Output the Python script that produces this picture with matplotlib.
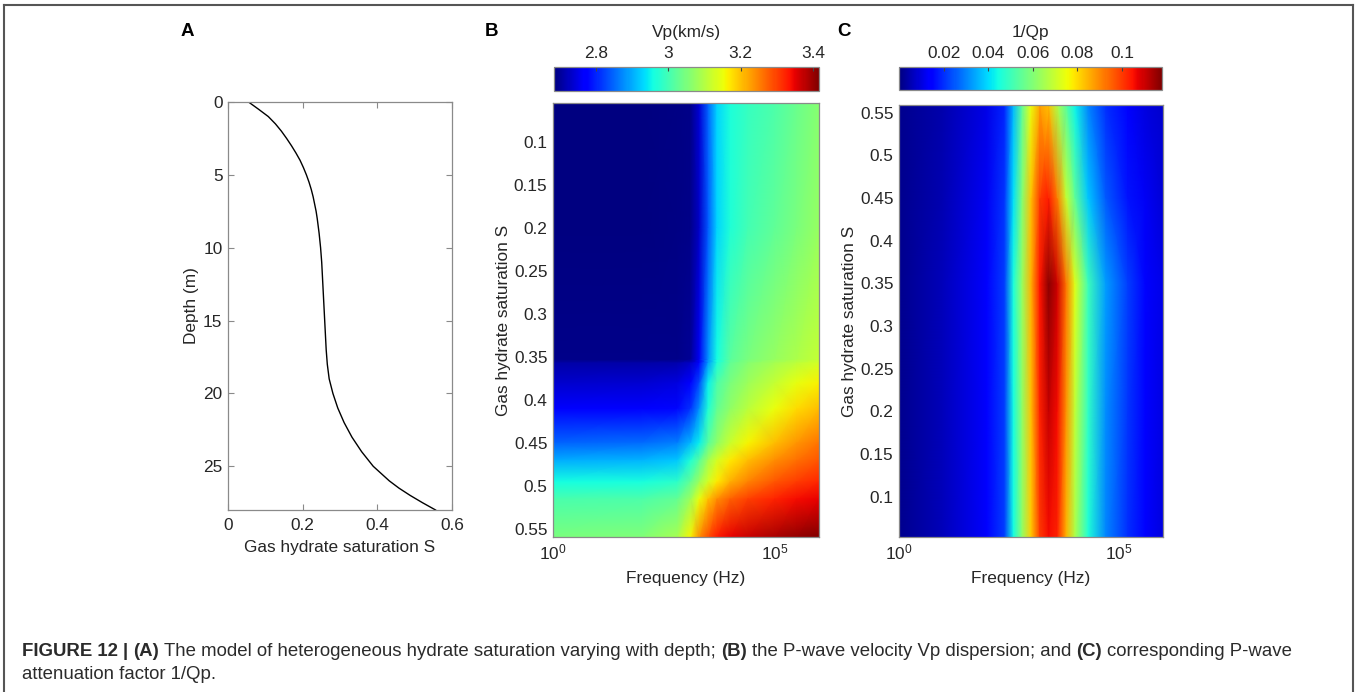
import numpy as np
import matplotlib
matplotlib.use("Agg")
import matplotlib.pyplot as plt
from matplotlib.lines import Line2D

plt.rcParams['font.family'] = ['Liberation Sans', 'DejaVu Sans']
plt.rcParams['mathtext.fontset'] = 'custom'
plt.rcParams['mathtext.rm'] = 'Liberation Sans'

W, H = 1359, 692

# (A) hydrate saturation profile vs depth
depth = [0, 0.5, 1.0, 1.5, 2.0, 2.5, 3.0, 3.5, 4.0, 4.5, 5.0, 5.5, 6.0, 6.5, 7.0, 7.5, 8.0,
         9.0, 10, 11, 12, 13, 14, 15, 16, 17, 18, 19, 20, 21, 22, 23, 24, 25, 26, 26.5, 27, 27.5, 28]
sat = [0.055, 0.082, 0.108, 0.127, 0.143, 0.157, 0.170, 0.182, 0.193, 0.202, 0.210, 0.217, 0.223,
       0.228, 0.232, 0.236, 0.239, 0.244, 0.248, 0.251, 0.253, 0.255, 0.257, 0.259, 0.261, 0.263,
       0.266, 0.271, 0.281, 0.294, 0.311, 0.332, 0.358, 0.389, 0.432, 0.458, 0.488, 0.521, 0.556]

# (B) Vp (km/s) on a grid of saturation rows x log10(frequency) columns
vp_logf = [0, 2, 2.8, 3.1, 3.3, 3.5, 3.7, 4.0, 4.4, 5.0, 5.5, 6.0]
vp_sat = [0.055, 0.20, 0.353, 0.357, 0.38, 0.41, 0.45, 0.47, 0.495, 0.515, 0.559]
vp = [
    [2.686, 2.686, 2.687, 2.690, 2.740, 2.850, 2.930, 2.965, 2.990, 3.010, 3.035, 3.060],
    [2.686, 2.686, 2.687, 2.690, 2.730, 2.840, 2.930, 2.970, 3.000, 3.025, 3.050, 3.075],
    [2.690, 2.690, 2.692, 2.700, 2.760, 2.880, 2.960, 3.020, 3.050, 3.075, 3.095, 3.115],
    [2.710, 2.710, 2.715, 2.730, 2.780, 2.890, 2.970, 3.030, 3.060, 3.090, 3.110, 3.130],
    [2.735, 2.737, 2.745, 2.765, 2.830, 2.950, 3.010, 3.050, 3.080, 3.115, 3.145, 3.165],
    [2.765, 2.768, 2.780, 2.810, 2.880, 2.970, 3.030, 3.070, 3.105, 3.150, 3.180, 3.205],
    [2.850, 2.853, 2.870, 2.910, 2.950, 3.020, 3.070, 3.120, 3.160, 3.205, 3.235, 3.260],
    [2.900, 2.905, 2.920, 2.970, 3.020, 3.085, 3.130, 3.170, 3.205, 3.240, 3.265, 3.285],
    [2.960, 2.963, 2.980, 3.030, 3.080, 3.130, 3.170, 3.215, 3.250, 3.285, 3.305, 3.320],
    [3.005, 3.010, 3.030, 3.080, 3.150, 3.200, 3.240, 3.275, 3.300, 3.325, 3.340, 3.350],
    [3.050, 3.055, 3.090, 3.160, 3.240, 3.290, 3.330, 3.350, 3.370, 3.390, 3.405, 3.415],
]
vp_ticks = [2.8, 3.0, 3.2, 3.4]
vp_ticklabels = ['2.8', '3', '3.2', '3.4']

# (C) 1/Qp on a grid of saturation rows x log10(frequency) columns
qp_logf = [0, 1, 2, 2.4, 2.6, 2.8, 3.0, 3.2, 3.4, 3.6, 3.8, 4.0, 4.3, 4.7, 5.2, 5.6, 6.0]
qp_sat = [0.053, 0.20, 0.35, 0.45, 0.559]
inv_qp = [
    [0.0015, 0.006, 0.013, 0.022, 0.044, 0.062, 0.082, 0.100, 0.106, 0.103, 0.085, 0.066, 0.046, 0.030, 0.020, 0.014, 0.010],
    [0.0015, 0.006, 0.013, 0.022, 0.044, 0.062, 0.083, 0.103, 0.111, 0.106, 0.089, 0.069, 0.048, 0.031, 0.021, 0.0145, 0.0105],
    [0.0015, 0.006, 0.013, 0.022, 0.045, 0.063, 0.085, 0.105, 0.117, 0.110, 0.093, 0.073, 0.050, 0.033, 0.022, 0.015, 0.011],
    [0.0015, 0.0055, 0.012, 0.021, 0.041, 0.060, 0.083, 0.100, 0.104, 0.092, 0.070, 0.055, 0.038, 0.025, 0.017, 0.012, 0.009],
    [0.0015, 0.005, 0.011, 0.019, 0.036, 0.055, 0.075, 0.087, 0.083, 0.066, 0.054, 0.043, 0.030, 0.020, 0.014, 0.010, 0.008],
]
qp_ticks = [0.02, 0.04, 0.06, 0.08, 0.1]
qp_ticklabels = ['0.02', '0.04', '0.06', '0.08', '0.1']

sat_ticks = [0.1, 0.15, 0.2, 0.25, 0.3, 0.35, 0.4, 0.45, 0.5, 0.55]
sat_ticklabels = ['0.1', '0.15', '0.2', '0.25', '0.3', '0.35', '0.4', '0.45', '0.5', '0.55']

FS = 12.4
TXT = '#262626'
SPINE = '#8a8a8a'


def px_rect(left, top, right, bottom):
    # pixel box -> figure fraction rect
    return [left / W, 1 - bottom / H, (right - left) / W, (bottom - top) / H]


def style_axes(ax):
    for s in ax.spines.values():
        s.set_color(SPINE)
        s.set_linewidth(0.9)
    ax.tick_params(direction='in', labelsize=FS, labelcolor=TXT, color=SPINE,
                   length=4, width=0.8, top=True, right=True)


fig = plt.figure(figsize=(W / 100, H / 100), dpi=100)

# ---- panel A
axA = fig.add_axes(px_rect(228, 102, 452, 510))
axA.plot(sat, depth, color='black', lw=1.0)
axA.set_xlim(0, 0.6)
axA.set_ylim(28, 0)
axA.set_xticks([0, 0.2, 0.4, 0.6])
axA.set_xticklabels(['0', '0.2', '0.4', '0.6'])
axA.set_yticks([0, 5, 10, 15, 20, 25])
axA.set_yticklabels(['0', '5', '10', '15', '20', '25'])
style_axes(axA)
axA.tick_params(axis='x', pad=6)
axA.tick_params(axis='y', pad=4)
axA.set_xlabel('Gas hydrate saturation S', fontsize=FS, color=TXT, labelpad=5)
axA.set_ylabel('Depth (m)', fontsize=FS, color=TXT, labelpad=3)


def heat_panel(rect, crect, logf, srows, grid, vmin, vmax, ticks, ticklabels, title, invert):
    ax = fig.add_axes(px_rect(*rect))
    freq = 10.0 ** np.array(logf)
    mesh = ax.pcolormesh(freq, np.array(srows), np.array(grid), shading='gouraud',
                         cmap='jet', vmin=vmin, vmax=vmax, rasterized=True)
    ax.set_xscale('log')
    ax.set_xlim(1, 1e6)
    if invert:
        ax.set_ylim(srows[-1], srows[0])
    else:
        ax.set_ylim(srows[0], srows[-1])
    ax.set_xticks([1, 1e5])
    ax.xaxis.set_minor_locator(matplotlib.ticker.NullLocator())
    ax.set_yticks(sat_ticks)
    ax.set_yticklabels(sat_ticklabels)
    style_axes(ax)
    ax.tick_params(length=0)
    ax.tick_params(axis='x', pad=4)
    ax.tick_params(axis='y', pad=4)
    ax.set_xlabel('Frequency (Hz)', fontsize=FS, color=TXT, labelpad=6)
    ax.set_ylabel('Gas hydrate saturation S', fontsize=FS, color=TXT, labelpad=2)

    cax = fig.add_axes(px_rect(*crect))
    cb = fig.colorbar(mesh, cax=cax, orientation='horizontal')
    cb.set_ticks(ticks)
    cb.set_ticklabels(ticklabels)
    cax.xaxis.set_ticks_position('top')
    cax.tick_params(direction='in', labelsize=FS, labelcolor=TXT, color='#444444',
                    length=3, width=0.8, pad=4)
    cb.outline.set_edgecolor(SPINE)
    cb.outline.set_linewidth(0.9)
    fig.text((crect[0] + crect[2]) / 2 / W, 1 - 33 / H, title, ha='center', va='center',
             fontsize=FS, color=TXT)
    return ax


heat_panel((553, 103, 819, 537), (554, 67, 819, 91), vp_logf, vp_sat, vp,
           2.684, 3.417, vp_ticks, vp_ticklabels, 'Vp(km/s)', True)
heat_panel((899, 105, 1163, 537), (899, 67, 1162, 90), qp_logf, qp_sat, inv_qp,
           0.0, 0.118, qp_ticks, qp_ticklabels, '1/Qp', False)

# panel letters
for letter, xc in [('A', 187), ('B', 492), ('C', 844)]:
    fig.text(xc / W, 1 - 31 / H, letter, ha='center', va='center',
             fontsize=13.5, fontweight='bold', color='black')

# outer frame (open at the bottom)
fx0, fx1, fy = 4 / W, 1353 / W, 1 - 5 / H
for xs, ys in [([fx0, fx0], [0, fy]), ([fx0, fx1], [fy, fy]), ([fx1, fx1], [fy, 0])]:
    fig.add_artist(Line2D(xs, ys, transform=fig.transFigure, color='#555555', lw=1.5))

# caption with bold pieces
CFS = 13.4
CCOL = '#2b2b2b'
renderer = fig.canvas.get_renderer()


def text_width(s, weight):
    t = fig.text(0, 0, s, fontsize=CFS, fontweight=weight)
    w = t.get_window_extent(renderer).width
    t.remove()
    return w


space = text_width('x x', 'normal') - text_width('xx', 'normal')
lines = [
    (656, [('FIGURE 12', 'bold'), ('|', 'bold'), ('(A)', 'bold'),
           ('The model of heterogeneous hydrate saturation varying with depth;', 'normal'),
           ('(B)', 'bold'), ('the P-wave velocity Vp dispersion; and', 'normal'),
           ('(C)', 'bold'), ('corresponding P-wave', 'normal')]),
    (679, [('attenuation factor 1/Qp.', 'normal')]),
]
for ybase, parts in lines:
    x = 22.0
    for s, weight in parts:
        t = fig.text(x / W, 1 - ybase / H, s, fontsize=CFS, fontweight=weight,
                     color=CCOL, va='baseline', ha='left')
        x += t.get_window_extent(renderer).width + space

fig.savefig('out.png', dpi=100)
